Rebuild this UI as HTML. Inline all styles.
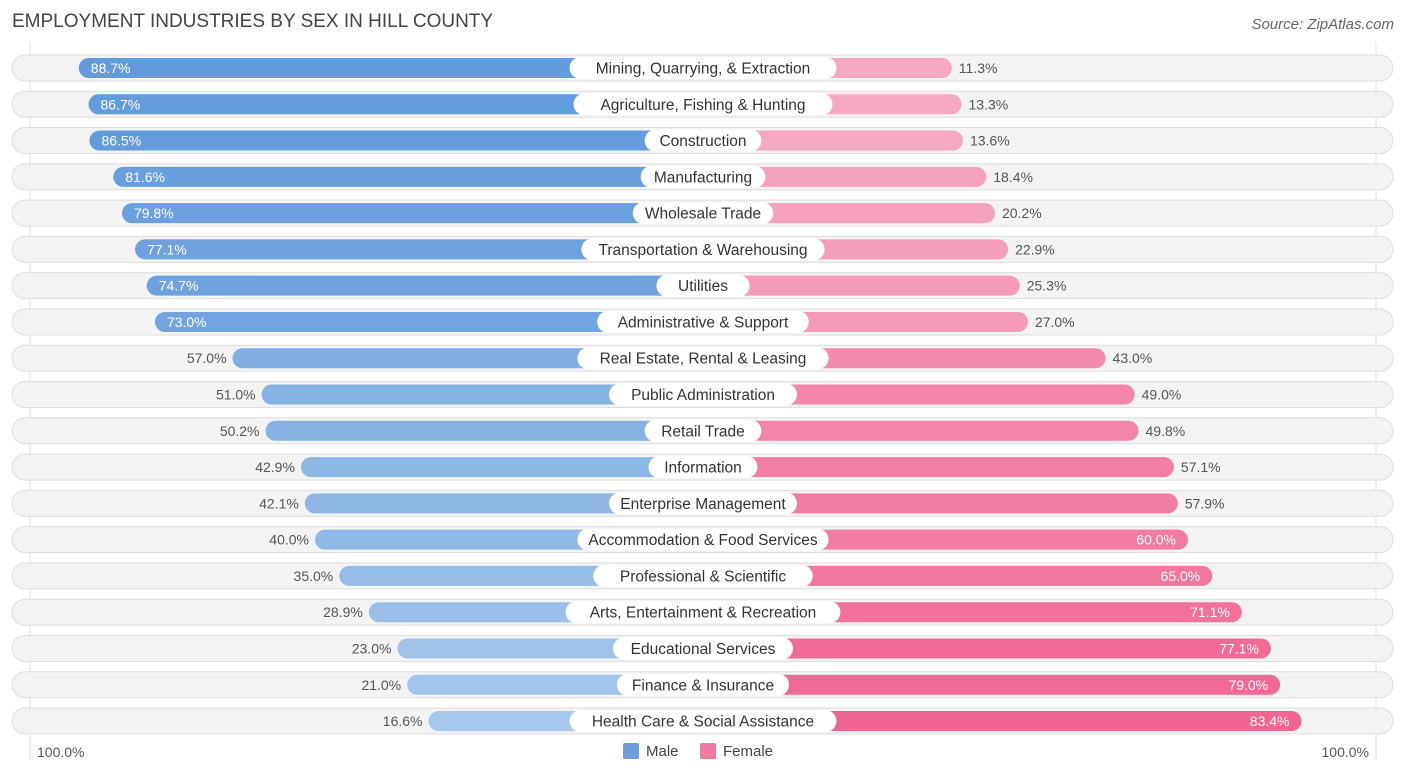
<!DOCTYPE html>
<html><head><meta charset="utf-8"><style>
body{margin:0;width:1406px;height:776px;background:#fff;font-family:"Liberation Sans",sans-serif;overflow:hidden;position:relative}
.t{position:absolute;white-space:nowrap}
</style></head><body>
<div class="t" style="left:12px;top:11px;font-size:19px;color:#444">EMPLOYMENT INDUSTRIES BY SEX IN HILL COUNTY</div>
<div class="t" style="right:12px;top:16px;font-size:15px;color:#666;font-style:italic">Source: ZipAtlas.com</div>
<svg id="chart" width="1406" height="776" style="position:absolute;left:0;top:0"></svg>
<script>
const categories=["Mining, Quarrying, & Extraction","Agriculture, Fishing & Hunting","Construction","Manufacturing","Wholesale Trade","Transportation & Warehousing","Utilities","Administrative & Support","Real Estate, Rental & Leasing","Public Administration","Retail Trade","Information","Enterprise Management","Accommodation & Food Services","Professional & Scientific","Arts, Entertainment & Recreation","Educational Services","Finance & Insurance","Health Care & Social Assistance"];
const male=[88.7,86.7,86.5,81.6,79.8,77.1,74.7,73.0,57.0,51.0,50.2,42.9,42.1,40.0,35.0,28.9,23.0,21.0,16.6];
const female=[11.3,13.3,13.6,18.4,20.2,22.9,25.3,27.0,43.0,49.0,49.8,57.1,57.9,60.0,65.0,71.1,77.1,79.0,83.4];
const NS="http://www.w3.org/2000/svg";
const svg=document.getElementById('chart');
const cx=703,y0=68,dy=36.28,bh=20;
function w(p){return 194+4.85*p;}
function mix(a,b,t){return 'rgb('+a.map((v,i)=>Math.round(v+(b[i]-v)*t)).join(',')+')';}
function el(tag,attrs,parent){const e=document.createElementNS(NS,tag);for(const k in attrs)e.setAttribute(k,attrs[k]);(parent||svg).appendChild(e);return e;}
[30,1376].forEach(x=>{const g=el('line',{x1:x,x2:x,y1:42,y2:760,stroke:'#ddd','stroke-width':1});});
categories.forEach((c,i)=>{
 const y=y0+i*dy;
 const g=el('g',{});
 
 
 const tr=el('rect',{x:12,y:y-13,width:1381,height:26,rx:13,fill:'#f3f3f3',stroke:'#dedede','stroke-width':1},g);
 
 
 const mw=w(male[i]),fw=w(female[i]);
 const mc=mix([169,200,236],[96,154,220],Math.min(1,Math.max(0,(male[i]-15)/75)));
 const fc=mix([246,170,196],[240,100,145],Math.min(1,Math.max(0,(female[i]-10)/75)));
 const mb=el('rect',{x:cx-mw,y:y-bh/2,width:mw+10,height:bh,rx:10,fill:mc},g);
 
 
 const fb=el('rect',{x:cx-10,y:y-bh/2,width:fw+10,height:bh,rx:10,fill:fc},g);
 
 
 el('rect',{x:cx,y:y-bh/2,width:1,height:bh,fill:fc},g);
 const lw=c.length*7.9+22;
 const lb=el('rect',{x:cx-lw/2,y:y-11,width:lw,height:22,rx:11,fill:'#fff'},g);
 
 
 const lt=el('text',{x:cx,y:y+5.5,'text-anchor':'middle','font-size':15.5,fill:'#333'},g);
 lt.textContent=c;
 
 
 const mi=male[i]>=60;
 const mt=el('text',{x:mi?cx-mw+12:cx-mw-6,y:y+5,'text-anchor':mi?'start':'end','font-size':14,fill:mi?'#fff':'#555'},g);
 mt.textContent=male[i].toFixed(1)+'%';
 
 
 const fi=female[i]>=60;
 const ft=el('text',{x:fi?cx+fw-12:cx+fw+7,y:y+5,'text-anchor':fi?'end':'start','font-size':14,fill:fi?'#fff':'#555'},g);
 ft.textContent=female[i].toFixed(1)+'%';
 
 
});
</script>
<div class="t" style="left:37px;top:744px;font-size:14px;color:#555">100.0%</div>
<div class="t" style="right:37px;top:744px;font-size:14px;color:#555">100.0%</div>
<div class="t" style="left:623px;top:743px;font-size:15px;color:#444"><span style="display:inline-block;width:16px;height:16px;background:#6a9fdf;border-radius:2px;vertical-align:-3px;margin-right:7px"></span>Male</div>
<div class="t" style="left:700px;top:743px;font-size:15px;color:#444"><span style="display:inline-block;width:16px;height:16px;background:#f07aa0;border-radius:2px;vertical-align:-3px;margin-right:7px"></span>Female</div>
</body></html>
